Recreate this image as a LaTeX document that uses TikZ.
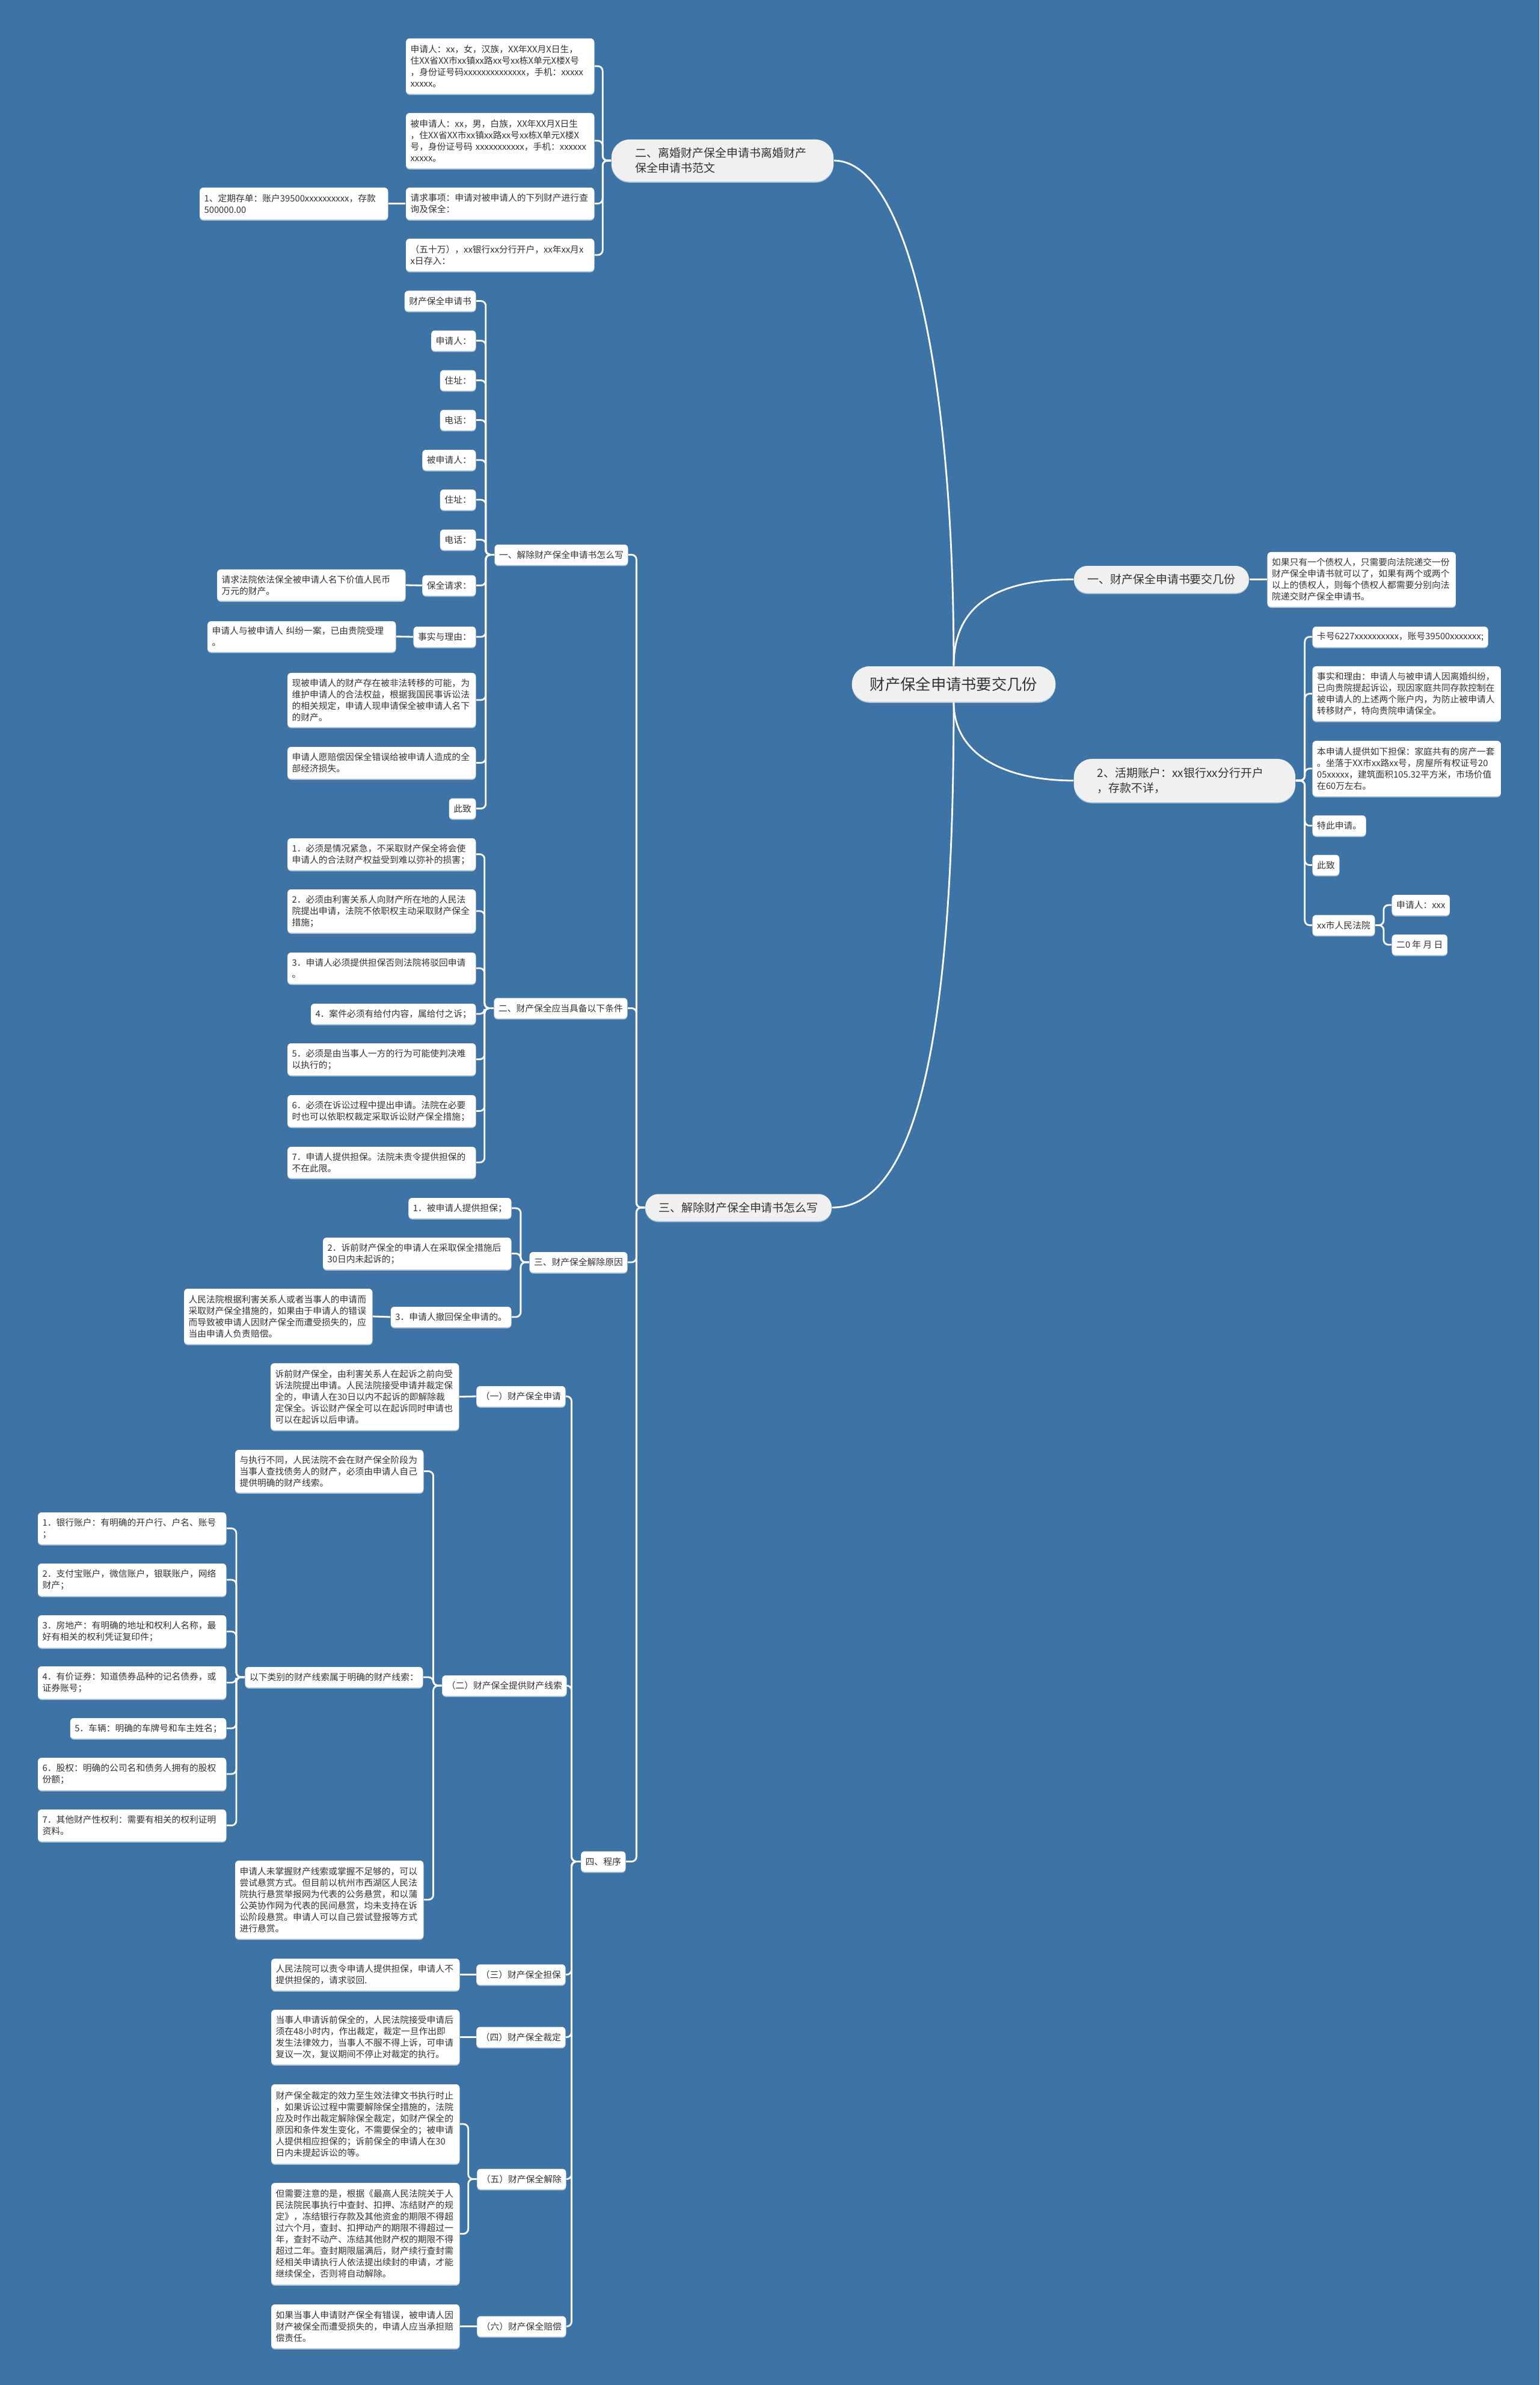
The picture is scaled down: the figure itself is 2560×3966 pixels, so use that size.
\documentclass[tikz,border=0pt]{standalone}
\usepackage{fontspec}
\setmainfont{Noto Sans CJK SC}
\usepackage{xcolor}
\usepackage{tikz}
\usetikzlibrary{shadows}
\definecolor{canvas}{HTML}{3E73A6}
\definecolor{pill}{HTML}{F0F0F0}
\definecolor{ink}{HTML}{333333}
\definecolor{shade}{HTML}{A8BFD7}

\begin{document}
\begin{tikzpicture}[
    x=0.01cm, y=-0.01cm,
    link/.style={draw=white, line width=0.8pt, rounded corners=0.08cm},
    curve/.style={draw=white, line width=0.8pt},
    leaf/.style={fill=white, text=ink, rounded corners=0.06cm, align=left,
                 font=\fontsize{4.2}{5.4}\selectfont, inner xsep=0.075cm, inner ysep=0.04cm,
                 minimum height=0.34cm, anchor=east,
                 drop shadow={shadow xshift=0pt, shadow yshift=-0.5pt, fill=shade, opacity=1}},
    para/.style={leaf, text width=2.98cm},
    topic/.style={fill=pill, text=ink, rounded corners=0.22cm, align=left,
                  font=\fontsize{5.4}{7.1}\selectfont, inner xsep=0.22cm, minimum height=0.45cm,
                  drop shadow={shadow xshift=0pt, shadow yshift=-0.5pt, fill=shade, opacity=1}}
]
\path[use as bounding box, fill=canvas] (0,0) rectangle (2560,3966);

% root and main topics
\node[topic, font=\fontsize{7.2}{9}\selectfont, inner xsep=0.3cm, minimum height=0.59cm, rounded corners=0.29cm] (root) at (1586,1137.5) {财产保全申请书要交几份};
\node[topic] (a1) at (1931.5,963.5) {一、财产保全申请书要交几份};
\node[topic, text width=2.9cm, minimum width=3.68cm, minimum height=0.72cm, rounded corners=0.3cm] (a2) at (1970,1298) {2、活期账户：xx银行xx分行开户\\，存款不详，};
\node[topic, text width=2.9cm, minimum width=3.69cm, minimum height=0.70cm, rounded corners=0.3cm] (b2) at (1201.5,267) {二、离婚财产保全申请书离婚财产\\保全申请书范文};
\node[topic] (b3) at (1228,2008) {三、解除财产保全申请书怎么写};

\draw[curve] (root.north) .. controls +(0,-500) and +(120,0) .. (b2.east);
\draw[curve] (root.north) .. controls +(0,-100) and +(-130,0) .. (a1.west);
\draw[curve] (root.south) .. controls +(0,580) and +(135,0) .. (b3.east);
\draw[curve] (root.south) .. controls +(0,90) and +(-110,0) .. (a2.west);

% right side
\node[para, anchor=west, minimum height=0.91cm] (a1p) at (2107,963.5) {如果只有一个债权人，只需要向法院递交一份\\财产保全申请书就可以了，如果有两个或两个\\以上的债权人，则每个债权人都需要分别向法\\院递交财产保全申请书。};
\draw[link] (a1.east) -- (a1p.west);
\node[leaf, anchor=west] (r1) at (2182,1059) {卡号6227xxxxxxxxxx，账号39500xxxxxxx;};
\node[para, anchor=west, minimum height=0.91cm] (r2) at (2182,1153.5) {事实和理由：申请人与被申请人因离婚纠纷，\\已向贵院提起诉讼，现因家庭共同存款控制在\\被申请人的上述两个账户内，为防止被申请人\\转移财产，特向贵院申请保全。};
\node[para, anchor=west, minimum height=0.92cm] (r3) at (2182,1278) {本申请人提供如下担保：家庭共有的房产一套\\。坐落于XX市xx路xx号，房屋所有权证号20\\05xxxxx，建筑面积105.32平方米，市场价值\\在60万左右。};
\node[leaf, anchor=west] (r4) at (2182,1373) {特此申请。};
\node[leaf, anchor=west] (r5) at (2182,1438.5) {此致};
\node[leaf, anchor=west] (r6) at (2182,1538.5) {xx市人民法院};
\node[leaf, anchor=west] (r7) at (2314,1505) {申请人：xxx};
\node[leaf, anchor=west] (r8) at (2314,1571) {二0 年 月 日};
\foreach \i in {1,...,6} { \draw[link] (a2.east) -- ++(15,0) |- (r\i.west); }
\foreach \i in {7,8} { \draw[link] (r6.east) -- ++(14,0) |- (r\i.west); }

% 二、离婚财产保全申请书
\node[para, minimum height=0.92cm] (b2p1) at (989,110) {申请人：xx，女，汉族，XX年XX月X日生，\\住XX省XX市xx镇xx路xx号xx栋X单元X楼X号\\，身份证号码xxxxxxxxxxxxxx，手机：xxxxx\\xxxxx。};
\node[para, minimum height=0.92cm] (b2p2) at (989,234) {被申请人：xx，男，白族，XX年XX月X日生\\，住XX省XX市xx镇xx路xx号xx栋X单元X楼X\\号，身份证号码 xxxxxxxxxxx，手机：xxxxxx\\xxxxx。};
\node[para, minimum height=0.53cm] (b2p3) at (989,338.5) {请求事项：申请对被申请人的下列财产进行查\\询及保全：};
\node[para, minimum height=0.54cm] (b2p4) at (989,424) {（五十万），xx银行xx分行开户，xx年xx月x\\x日存入：};
\node[para, minimum height=0.53cm] (b2q) at (646,338.5) {1、定期存单：账户39500xxxxxxxxxx，存款\\500000.00};
\foreach \i in {1,...,4} { \draw[link] (b2.west) -- ++(-14,0) |- (b2p\i.east); }
\draw[link] (b2p3.west) -- (b2q.east);

% 三、解除财产保全申请书怎么写
\node[leaf] (s1) at (1045,922.5) {一、解除财产保全申请书怎么写};
\node[leaf] (s2) at (1044,1676.5) {二、财产保全应当具备以下条件};
\node[leaf] (s3) at (1044,2099) {三、财产保全解除原因};
\node[leaf] (s4) at (1041,3095.5) {四、程序};
\foreach \i in {1,...,4} { \draw[link] (b3.west) -- ++(-14,0) |- (s\i.east); }

% 一、解除财产保全申请书怎么写
\foreach \y/\t [count=\i] in {500.5/财产保全申请书, 566.5/申请人：, 632.5/住址：, 698.5/电话：,
    765/被申请人：, 831/住址：, 897.5/电话：, 973.5/保全请求：, 1059/事实与理由：}
  { \node[leaf] (f\i) at (792,\y) {\t}; }
\node[para, minimum height=0.90cm] (f10) at (792,1164) {现被申请人的财产存在被非法转移的可能，为\\维护申请人的合法权益，根据我国民事诉讼法\\的相关规定，申请人现申请保全被申请人名下\\的财产。};
\node[para, minimum height=0.53cm] (f11) at (792,1268.5) {申请人愿赔偿因保全错误给被申请人造成的全\\部经济损失。};
\node[leaf] (f12) at (792,1344.5) {此致};
\foreach \i in {1,...,12} { \draw[link] (s1.west) -- ++(-14,0) |- (f\i.east); }
\node[para, minimum height=0.52cm] (f8p) at (675,973) {请求法院依法保全被申请人名下价值人民币\\万元的财产。};
\node[para, minimum height=0.51cm] (f9p) at (659,1058.5) {申请人与被申请人 纠纷一案，已由贵院受理\\。};
\draw[link] (f8.west) -- (f8p.east);
\draw[link] (f9.west) -- (f9p.east);

% 二、财产保全应当具备以下条件
\node[para, minimum height=0.53cm] (g1) at (792,1420.5) {1．必须是情况紧急，不采取财产保全将会使\\申请人的合法财产权益受到难以弥补的损害；};
\node[para, minimum height=0.72cm] (g2) at (792,1515) {2．必须由利害关系人向财产所在地的人民法\\院提出申请，法院不依职权主动采取财产保全\\措施；};
\node[para, minimum height=0.52cm] (g3) at (792,1610) {3．申请人必须提供担保否则法院将驳回申请\\。};
\node[leaf] (g4) at (792,1686) {4．案件必须有给付内容，属给付之诉；};
\node[para, minimum height=0.53cm] (g5) at (792,1761.5) {5．必须是由当事人一方的行为可能使判决难\\以执行的；};
\node[para, minimum height=0.53cm] (g6) at (792,1847.5) {6．必须在诉讼过程中提出申请。法院在必要\\时也可以依职权裁定采取诉讼财产保全措施；};
\node[para, minimum height=0.52cm] (g7) at (792,1933) {7．申请人提供担保。法院未责令提供担保的\\不在此限。};
\foreach \i in {1,...,7} { \draw[link] (s2.west) -- ++(-15,0) |- (g\i.east); }

% 三、财产保全解除原因
\node[leaf] (h1) at (851,2009) {1．被申请人提供担保；};
\node[para, minimum height=0.53cm] (h2) at (851,2084.5) {2．诉前财产保全的申请人在采取保全措施后\\30日内未起诉的；};
\node[leaf] (h3) at (851,2190) {3．申请人撤回保全申请的。};
\foreach \i in {1,2,3} { \draw[link] (s3.west) -- ++(-14,0) |- (h\i.east); }
\node[para, minimum height=0.92cm] (h3p) at (620,2189) {人民法院根据利害关系人或者当事人的申请而\\采取财产保全措施的，如果由于申请人的错误\\而导致被申请人因财产保全而遭受损失的，应\\当由申请人负责赔偿。};
\draw[link] (h3.west) -- (h3p.east);

% 四、程序
\node[leaf] (t1) at (941,2322) {（一）财产保全申请};
\node[leaf] (t2) at (943,2803) {（二）财产保全提供财产线索};
\node[leaf] (t3) at (941,3283.5) {（三）财产保全担保};
\node[leaf] (t4) at (941,3387.5) {（四）财产保全裁定};
\node[leaf] (t5) at (942,3623.5) {（五）财产保全解除};
\node[leaf] (t6) at (942,3868.5) {（六）财产保全赔偿};
\foreach \i in {1,...,6} { \draw[link] (s4.west) -- ++(-15,0) |- (t\i.east); }

\node[para, minimum height=1.11cm] (t1p) at (764,2322.5) {诉前财产保全，由利害关系人在起诉之前向受\\诉法院提出申请。人民法院接受申请并裁定保\\全的，申请人在30日以内不起诉的即解除裁\\定保全。诉讼财产保全可以在起诉同时申请也\\可以在起诉以后申请。};
\draw[link] (t1.west) -- (t1p.east);

\node[para, minimum height=0.71cm] (u1) at (705,2446.5) {与执行不同，人民法院不会在财产保全阶段为\\当事人查找债务人的财产，必须由申请人自己\\提供明确的财产线索。};
\node[leaf] (u2) at (704,2789) {以下类别的财产线索属于明确的财产线索：};
\node[para, minimum height=1.30cm] (u3) at (705,3159) {申请人未掌握财产线索或掌握不足够的，可以\\尝试悬赏方式。但目前以杭州市西湖区人民法\\院执行悬赏举报网为代表的公务悬赏，和以蒲\\公英协作网为代表的民间悬赏，均未支持在诉\\讼阶段悬赏。申请人可以自己尝试登报等方式\\进行悬赏。};
\foreach \i in {1,2,3} { \draw[link] (t2.west) -- ++(-14,0) |- (u\i.east); }

\node[para, minimum height=0.53cm] (k1) at (377,2541.5) {1．银行账户：有明确的开户行、户名、账号\\；};
\node[para, minimum height=0.54cm] (k2) at (377,2627) {2．支付宝账户，微信账户，银联账户，网络\\财产；};
\node[para, minimum height=0.54cm] (k3) at (377,2713) {3．房地产：有明确的地址和权利人名称，最\\好有相关的权利凭证复印件；};
\node[para, minimum height=0.54cm] (k4) at (377,2798) {4．有价证券：知道债券品种的记名债券，或\\证券账号；};
\node[leaf] (k5) at (377,2874) {5．车辆：明确的车牌号和车主姓名；};
\node[para, minimum height=0.54cm] (k6) at (377,2950) {6．股权：明确的公司名和债务人拥有的股权\\份额；};
\node[para, minimum height=0.53cm] (k7) at (377,3035.5) {7．其他财产性权利：需要有相关的权利证明\\资料。};
\foreach \i in {1,...,7} { \draw[link] (u2.west) -- ++(-14,0) |- (k\i.east); }

\node[para, minimum height=0.53cm] (t3p) at (765,3283.5) {人民法院可以责令申请人提供担保，申请人不\\提供担保的，请求驳回.};
\node[para, minimum height=0.91cm] (t4p) at (765,3387.5) {当事人申请诉前保全的，人民法院接受申请后\\须在48小时内，作出裁定，裁定一旦作出即\\发生法律效力，当事人不服不得上诉，可申请\\复议一次，复议期间不停止对裁定的执行。};
\draw[link] (t3.west) -- (t3p.east);
\draw[link] (t4.west) -- (t4p.east);

\node[para, minimum height=1.32cm] (v1) at (765,3532) {财产保全裁定的效力至生效法律文书执行时止\\，如果诉讼过程中需要解除保全措施的，法院\\应及时作出裁定解除保全裁定，如财产保全的\\原因和条件发生变化，不需要保全的；被申请\\人提供相应担保的；诉前保全的申请人在30\\日内未提起诉讼的等。};
\node[para, minimum height=1.69cm] (v2) at (765,3714.5) {但需要注意的是，根据《最高人民法院关于人\\民法院民事执行中查封、扣押、冻结财产的规\\定》，冻结银行存款及其他资金的期限不得超\\过六个月，查封、扣押动产的期限不得超过一\\年，查封不动产、冻结其他财产权的期限不得\\超过二年。查封期限届满后，财产续行查封需\\经相关申请执行人依法提出续封的申请，才能\\继续保全，否则将自动解除。};
\foreach \i in {1,2} { \draw[link] (t5.west) -- ++(-14,0) |- (v\i.east); }

\node[para, minimum height=0.73cm] (t6p) at (765,3868.5) {如果当事人申请财产保全有错误，被申请人因\\财产被保全而遭受损失的，申请人应当承担赔\\偿责任。};
\draw[link] (t6.west) -- (t6p.east);
\end{tikzpicture}
\end{document}
